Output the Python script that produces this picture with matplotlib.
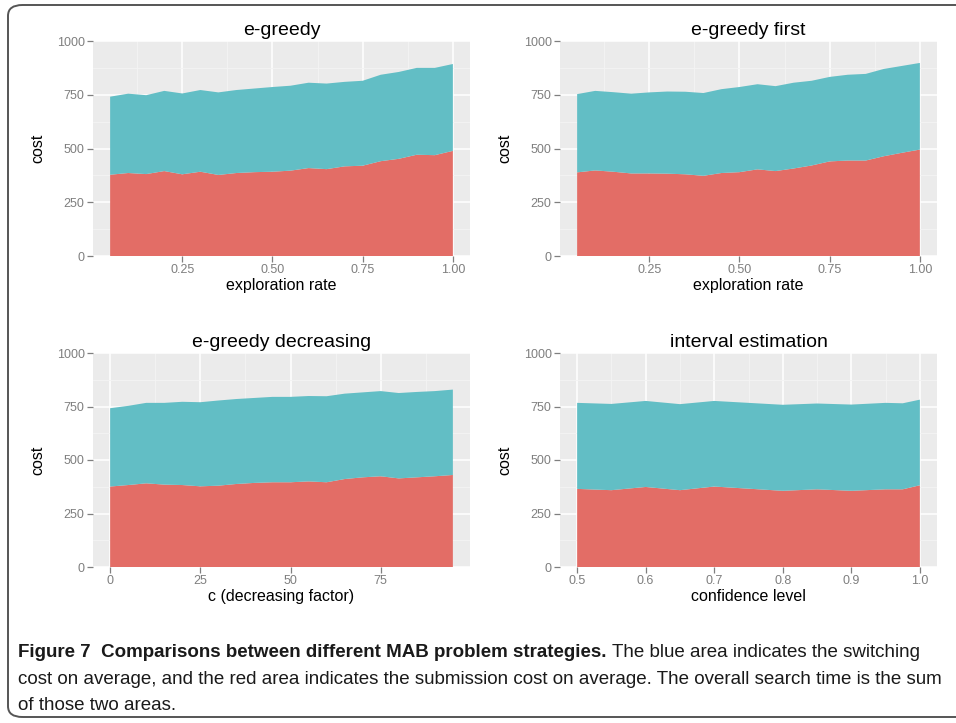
import numpy as np
import matplotlib
matplotlib.use("Agg")
import matplotlib.pyplot as plt
from matplotlib import font_manager
from matplotlib.patches import FancyBboxPatch
from matplotlib.ticker import MultipleLocator

# exploration rate sweep (e-greedy, e-greedy first)
rate = [0.05, 0.10, 0.15, 0.20, 0.25, 0.30, 0.35, 0.40, 0.45, 0.50,
        0.55, 0.60, 0.65, 0.70, 0.75, 0.80, 0.85, 0.90, 0.95, 1.00]
# decreasing factor sweep
decay = [0, 5, 10, 15, 20, 25, 30, 35, 40, 45,
         50, 55, 60, 65, 70, 75, 80, 85, 90, 95]
# confidence level sweep
conf = [0.50, 0.55, 0.60, 0.65, 0.70, 0.75, 0.80, 0.85, 0.90, 0.95, 0.975, 1.00]

# average submission cost (red) and switching cost (blue)
greedy_sub = [378, 386, 381, 395, 380, 392, 377, 386, 390, 392,
              397, 409, 404, 417, 420, 441, 452, 471, 469, 489]
greedy_sw = [363, 369, 367, 373, 376, 380, 384, 386, 389, 394,
             395, 397, 398, 393, 395, 402, 404, 404, 406, 404]

first_sub = [389, 398, 392, 384, 384, 383, 380, 373, 386, 390,
             403, 395, 407, 421, 440, 444, 444, 464, 480, 495]
first_sw = [364, 370, 370, 371, 377, 382, 384, 385, 390, 396,
            396, 395, 399, 394, 393, 399, 403, 406, 404, 403]

decr_sub = [376, 383, 391, 385, 383, 377, 380, 388, 393, 396,
            396, 400, 396, 411, 419, 424, 414, 419, 424, 430]
decr_sw = [366, 370, 376, 382, 389, 393, 398, 397, 397, 399,
           399, 399, 402, 399, 397, 398, 399, 399, 398, 399]

ie_sub = [365, 359, 374, 359, 376, 366, 356, 363, 356, 363, 363, 382]
ie_sw = [402, 403, 402, 402, 400, 401, 402, 401, 403, 404, 402, 400]

RED = "#E36D66"
BLUE = "#62BEC5"
PANEL = "#EBEBEB"
MINOR = "#F4F4F4"
TICK = "#7F7F7F"

plt.rcParams["font.family"] = ["Liberation Sans", "DejaVu Sans"]

fig = plt.figure(figsize=(9.56, 7.23), dpi=100)
W, H = 956, 723


def px_axes(x0, y0, x1, y1):
    return fig.add_axes([x0 / W, 1 - y1 / H, (x1 - x0) / W, (y1 - y0) / H])


panels = [
    (px_axes(93, 41, 470, 256), rate, greedy_sub, greedy_sw, "e-greedy",
     "exploration rate", [0.25, 0.50, 0.75, 1.00], "{:.2f}", 0.125),
    (px_axes(560, 41, 937, 256), rate, first_sub, first_sw, "e-greedy first",
     "exploration rate", [0.25, 0.50, 0.75, 1.00], "{:.2f}", 0.125),
    (px_axes(93, 353, 470, 567), decay, decr_sub, decr_sw, "e-greedy decreasing",
     "c (decreasing factor)", [0, 25, 50, 75], "{:d}", 12.5),
    (px_axes(560, 353, 937, 567), conf, ie_sub, ie_sw, "interval estimation",
     "confidence level", [0.5, 0.6, 0.7, 0.8, 0.9, 1.0], "{:.1f}", 0.05),
]

for ax, x, sub, sw, title, xlabel, xticks, fmt, minor_step in panels:
    ax.set_facecolor(PANEL)
    ax.stackplot(x, sub, sw, colors=[RED, BLUE], linewidth=0, zorder=3)

    span = x[-1] - x[0]
    ax.set_xlim(x[0] - 0.05 * span, x[-1] + 0.05 * span)
    ax.set_ylim(0, 1000)

    ax.set_xticks(xticks)
    ax.set_xticklabels([fmt.format(t) for t in xticks])
    ax.set_yticks([0, 250, 500, 750, 1000])
    ax.xaxis.set_minor_locator(MultipleLocator(minor_step))
    ax.yaxis.set_minor_locator(MultipleLocator(125))

    ax.grid(which="major", color="white", linewidth=1.1, zorder=1)
    ax.grid(which="minor", color=MINOR, linewidth=0.6, zorder=0)
    ax.set_axisbelow(True)

    for s in ax.spines.values():
        s.set_visible(False)
    ax.tick_params(which="major", length=4, width=0.9, color=TICK,
                   labelcolor=TICK, labelsize=9, pad=2)
    ax.tick_params(which="minor", length=0)

    ax.set_title(title, fontsize=14, pad=4)
    ax.set_xlabel(xlabel, fontsize=11.5, labelpad=1)
    ax.set_ylabel("cost", fontsize=11.5, labelpad=8)

# rounded frame around the figure
frame = FancyBboxPatch((8 / W, 1 - 717 / H), 1.2, (717 - 5) / H,
                       boxstyle="round,pad=0,rounding_size=0.015",
                       transform=fig.transFigure, fill=False,
                       edgecolor="#555555", linewidth=1.4, clip_on=False)
fig.patches.append(frame)

# caption
names = {f.name for f in font_manager.fontManager.ttflist}
cap_font = "Liberation Sans Narrow" if "Liberation Sans Narrow" in names else "Liberation Sans"
cap_size = 16 if cap_font == "Liberation Sans Narrow" else 13.5

renderer = fig.canvas.get_renderer()
bold = fig.text(18 / W, 1 - 657 / H,
                "Figure 7  Comparisons between different MAB problem strategies.",
                family=cap_font, fontsize=cap_size, fontweight="bold",
                color="#1a1a1a", va="baseline")
bb = bold.get_window_extent(renderer)
fig.text(bb.x1 / W + 5 / W, 1 - 657 / H,
         "The blue area indicates the switching",
         family=cap_font, fontsize=cap_size, color="#1a1a1a", va="baseline")
fig.text(18 / W, 1 - 684 / H,
         "cost on average, and the red area indicates the submission cost on average. "
         "The overall search time is the sum",
         family=cap_font, fontsize=cap_size, color="#1a1a1a", va="baseline")
fig.text(18 / W, 1 - 710 / H, "of those two areas.",
         family=cap_font, fontsize=cap_size, color="#1a1a1a", va="baseline")

fig.savefig("out.png", dpi=100)
